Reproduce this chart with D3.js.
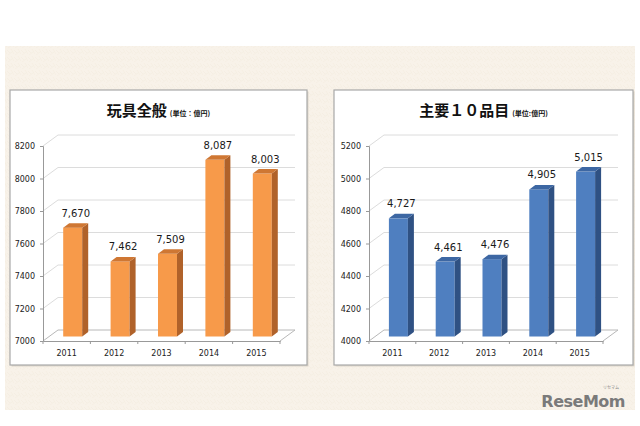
<!DOCTYPE html>
<html>
<head>
<meta charset="utf-8">
<script src="https://cdn.jsdelivr.net/npm/d3@7"></script>
<style>
  body { margin: 0; background: #fff; }
  svg { display: block; font-family: "Noto Sans CJK JP", "Noto Sans", sans-serif; }
</style>
</head>
<body>
<svg id="chart" width="640" height="426"></svg>
<script>
// data
const years = ["2011", "2012", "2013", "2014", "2015"];
const toyTotal = [7670, 7462, 7509, 8087, 8003];
const top10 = [4727, 4461, 4476, 4905, 5015];
const toyTicks = [7000, 7200, 7400, 7600, 7800, 8000, 8200];
const top10Ticks = [4000, 4200, 4400, 4600, 4800, 5000, 5200];

const svg = d3.select("#chart");
const fmt = d3.format(",");

// beige paper panel, faint texture
const defs = svg.append("defs");
const pat = defs.append("pattern")
  .attr("id", "paper").attr("width", 7).attr("height", 7)
  .attr("patternUnits", "userSpaceOnUse");
pat.append("rect").attr("width", 7).attr("height", 7).attr("fill", "#f8f2e9");
pat.append("path").attr("d", "M0 1L3 4M4 0L7 5M1 6L5 3")
  .attr("stroke", "#f2eadd").attr("stroke-width", 0.5);
svg.append("rect")
  .attr("x", 5).attr("y", 46)
  .attr("width", 630).attr("height", 364)
  .attr("fill", "url(#paper)");

function makeChart(opt) {
  const g = svg.append("g");
  const dx = 15, dy = -11;   // depth of the 3d box
  const ox = 6, oy = -4.5;   // bar offset inside depth
  const bx = 6, by = -4.5;   // bar own depth

  // frame
  g.append("rect")
    .attr("x", opt.fx + 1.5).attr("y", opt.fy + 1.5)
    .attr("width", opt.fw).attr("height", opt.fh)
    .attr("fill", "#ddd6cb");
  g.append("rect")
    .attr("x", opt.fx).attr("y", opt.fy)
    .attr("width", opt.fw).attr("height", opt.fh)
    .attr("fill", "#fff")
    .attr("stroke", "#a8a8a8").attr("stroke-width", 1.2);

  // title
  const t = g.append("text")
    .attr("x", opt.fx + opt.fw / 2).attr("y", 116)
    .attr("text-anchor", "middle")
    .attr("fill", "#111");
  t.append("tspan").attr("font-size", 15).attr("font-weight", "bold").text(opt.title);
  t.append("tspan").attr("font-size", 7).attr("dx", 3).attr("font-weight", "bold").text(opt.unit);

  const y = d3.scaleLinear().domain(d3.extent(opt.ticks)).range([341, 146]);
  const x = d3.scaleBand().domain(years).range([opt.x0, opt.x1]);

  // gridlines: side wall diagonal + back wall
  const grid = g.append("g").attr("stroke", "#dcdcdc").attr("stroke-width", 1);
  opt.ticks.forEach(v => {
    if (v === opt.ticks[0]) return;
    grid.append("path")
      .attr("fill", "none")
      .attr("d", `M${opt.x0},${y(v)}L${opt.x0 + dx},${y(v) + dy}L${opt.x1 + dx},${y(v) + dy}`);
  });
  // floor
  const y0 = y(opt.ticks[0]);
  g.append("path")
    .attr("d", `M${opt.x0},${y0}L${opt.x0 + dx},${y0 + dy}L${opt.x1 + dx},${y0 + dy}L${opt.x1},${y0}`)
    .attr("fill", "none").attr("stroke", "#b8b8b8");

  // y axis
  const ya = d3.axisLeft(y).tickValues(opt.ticks).tickSize(3).tickPadding(5).tickFormat(d3.format("d"));
  g.append("g")
    .attr("transform", `translate(${opt.x0},0)`)
    .call(ya)
    .call(s => s.select(".domain").attr("stroke", "#999"))
    .call(s => s.selectAll(".tick line").attr("stroke", "#999"))
    .call(s => s.selectAll("text").attr("font-size", 8).attr("fill", "#222")
      .attr("font-family", "'DejaVu Sans', sans-serif"));

  // x axis
  const xa = d3.axisBottom(x).tickSize(0).tickPadding(9);
  const xg = g.append("g")
    .attr("transform", `translate(0,${y0})`)
    .call(xa)
    .call(s => s.select(".domain").attr("stroke", "#999"))
    .call(s => s.selectAll("text").attr("font-size", 8).attr("fill", "#222")
      .attr("font-family", "'DejaVu Sans', sans-serif"));
  // category separators
  years.forEach(d => {
    const px = x(d);
    xg.append("line").attr("x1", px).attr("x2", px).attr("y1", 0).attr("y2", 3).attr("stroke", "#999");
  });
  xg.append("line").attr("x1", opt.x1).attr("x2", opt.x1).attr("y1", 0).attr("y2", 3).attr("stroke", "#999");

  // bars
  const bw = 19;
  const bars = g.append("g");
  opt.values.forEach((v, i) => {
    const cx = x(years[i]) + x.bandwidth() / 2 + ox;
    const l = cx - bw / 2, r = cx + bw / 2;
    const top = y(v) + oy, bot = y0 + oy;
    // front
    bars.append("rect")
      .attr("x", l).attr("y", top).attr("width", bw).attr("height", bot - top)
      .attr("fill", opt.front);
    // side
    bars.append("path")
      .attr("d", `M${r},${top}L${r + bx},${top + by}L${r + bx},${bot + by}L${r},${bot}Z`)
      .attr("fill", opt.side);
    // top
    bars.append("path")
      .attr("d", `M${l},${top}L${l + bx},${top + by}L${r + bx},${top + by}L${r},${top}Z`)
      .attr("fill", opt.topc);
    // value label
    bars.append("text")
      .attr("x", cx + 3).attr("y", top - 11)
      .attr("text-anchor", "middle")
      .attr("font-size", 10)
      .attr("font-family", "'DejaVu Sans', sans-serif")
      .attr("fill", "#1a1a1a")
      .text(fmt(v));
  });
}

makeChart({
  title: "玩具全般", unit: "(単位：億円)",
  values: toyTotal, ticks: toyTicks,
  fx: 10, fy: 90, fw: 297, fh: 275,
  x0: 43, x1: 280,
  front: "#f79a4a", side: "#b0622a", topc: "#cf7733"
});

makeChart({
  title: "主要１０品目", unit: "(単位:億円)",
  values: top10, ticks: top10Ticks,
  fx: 334, fy: 90, fw: 299, fh: 275,
  x0: 369, x1: 603,
  front: "#4f7fc0", side: "#2f5183", topc: "#3d67a3"
});

// logo
svg.append("text")
  .attr("x", 625).attr("y", 407)
  .attr("text-anchor", "end")
  .attr("font-family", "'DejaVu Sans', sans-serif")
  .attr("font-weight", "bold")
  .attr("font-size", 16)
  .attr("fill", "#7a7a7a")
  .attr("letter-spacing", -0.5)
  .text("ReseMom");
svg.append("text")
  .attr("x", 611).attr("y", 389)
  .attr("text-anchor", "middle")
  .attr("font-size", 4)
  .attr("fill", "#888")
  .text("リセマム");
</script>
</body>
</html>
